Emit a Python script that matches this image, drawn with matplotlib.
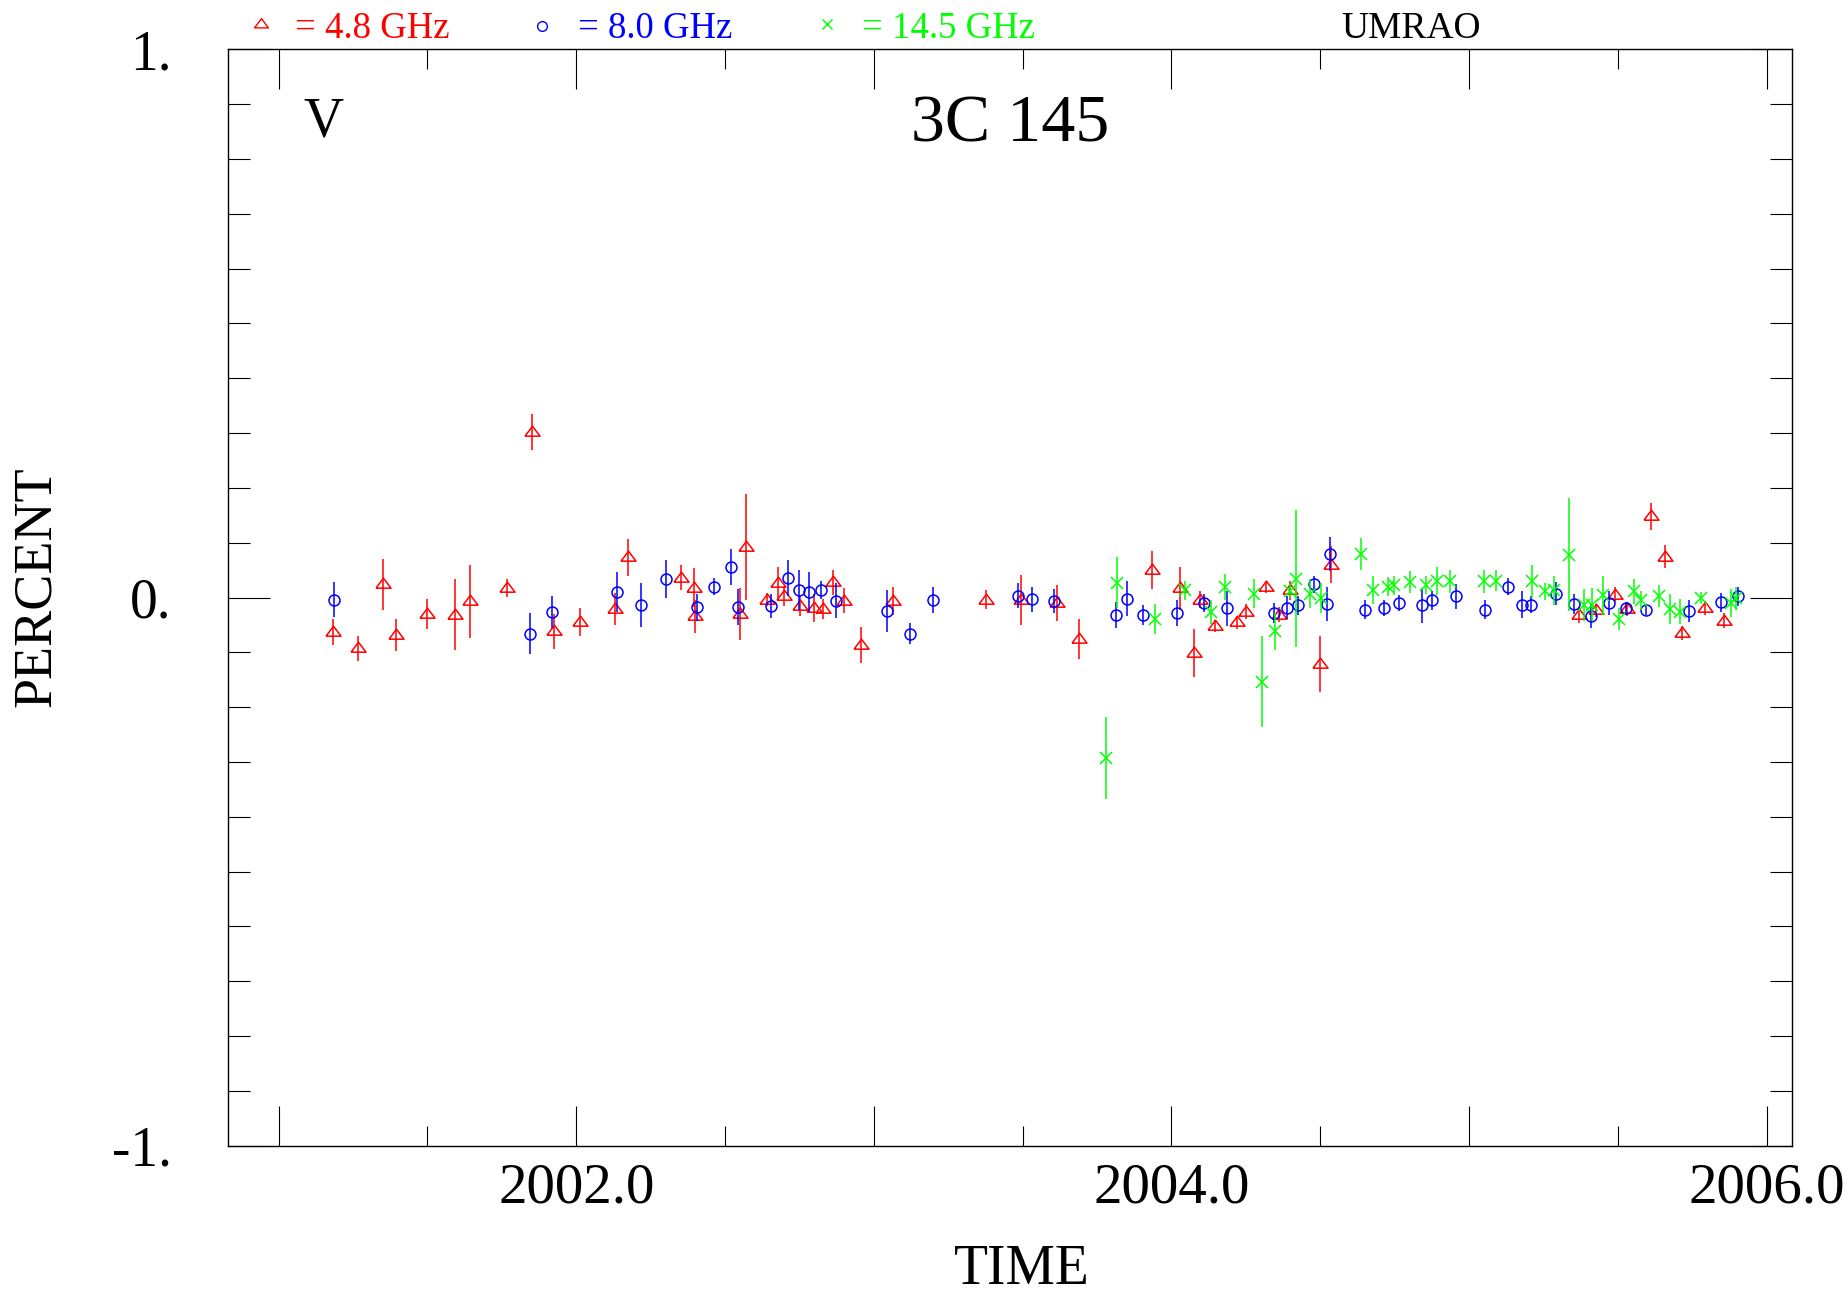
import numpy as np
import matplotlib
matplotlib.use("Agg")
import matplotlib.pyplot as plt
from matplotlib.ticker import FixedLocator, FuncFormatter, FixedFormatter
from matplotlib.lines import Line2D

plt.rcParams['font.family'] = ['Liberation Serif', 'DejaVu Serif']

# 4.8 GHz (red triangles)
t48 = [2001.183, 2001.267, 2001.351, 2001.393, 2001.499, 2001.592, 2001.642, 2001.767,
       2001.851, 2001.925, 2002.013, 2002.129, 2002.174, 2002.351, 2002.397, 2002.400,
       2002.550, 2002.570, 2002.642, 2002.677, 2002.698, 2002.753, 2002.800, 2002.829,
       2002.862, 2002.900, 2002.957, 2003.066, 2003.377, 2003.494, 2003.615, 2003.689,
       2003.934, 2004.028, 2004.075, 2004.095, 2004.146, 2004.221, 2004.249, 2004.319,
       2004.360, 2004.400, 2004.500, 2004.537, 2005.369, 2005.425, 2005.492, 2005.530,
       2005.613, 2005.657, 2005.717, 2005.792, 2005.856]
v48 = [-0.063, -0.093, 0.024, -0.069, -0.030, -0.031, -0.007, 0.017,
       0.302, -0.062, -0.045, -0.021, 0.073, 0.036, 0.018, -0.034,
       -0.030, 0.092, -0.004, 0.026, 0.002, -0.016, -0.019, -0.021,
       0.028, -0.006, -0.086, -0.006, -0.004, -0.005, -0.010, -0.076,
       0.050, 0.017, -0.101, -0.004, -0.052, -0.045, -0.026, 0.020,
       -0.031, 0.013, -0.122, 0.060, -0.032, -0.023, 0.005, -0.021,
       0.148, 0.074, -0.065, -0.019, -0.042]
e48 = [0.023, 0.023, 0.046, 0.029, 0.028, 0.064, 0.067, 0.016,
       0.033, 0.032, 0.026, 0.029, 0.033, 0.023, 0.035, 0.030,
       0.047, 0.096, 0.012, 0.030, 0.018, 0.018, 0.025, 0.019,
       0.023, 0.023, 0.033, 0.025, 0.017, 0.046, 0.033, 0.037,
       0.035, 0.039, 0.044, 0.015, 0.011, 0.012, 0.014, 0.011,
       0.014, 0.017, 0.051, 0.034, 0.015, 0.012, 0.014, 0.012,
       0.024, 0.021, 0.013, 0.012, 0.013]

# 8.0 GHz (blue circles)
t80 = [2001.185, 2001.846, 2001.920, 2002.137, 2002.216, 2002.300, 2002.406, 2002.464,
       2002.519, 2002.544, 2002.654, 2002.710, 2002.747, 2002.782, 2002.822, 2002.872,
       2003.044, 2003.121, 2003.200, 2003.484, 2003.531, 2003.607, 2003.815, 2003.851,
       2003.903, 2004.017, 2004.110, 2004.188, 2004.343, 2004.389, 2004.426, 2004.480,
       2004.524, 2004.534, 2004.652, 2004.715, 2004.766, 2004.842, 2004.876, 2004.957,
       2005.054, 2005.131, 2005.178, 2005.207, 2005.292, 2005.351, 2005.411, 2005.470,
       2005.528, 2005.596, 2005.739, 2005.847, 2005.904]
v80 = [-0.004, -0.066, -0.027, 0.010, -0.014, 0.034, -0.018, 0.020,
       0.055, -0.018, -0.015, 0.035, 0.014, 0.010, 0.014, -0.006,
       -0.025, -0.066, -0.005, 0.003, -0.003, -0.007, -0.032, -0.002,
       -0.032, -0.028, -0.010, -0.020, -0.028, -0.019, -0.014, 0.024,
       -0.011, 0.080, -0.022, -0.019, -0.010, -0.014, -0.005, 0.002,
       -0.022, 0.020, -0.013, -0.013, 0.007, -0.012, -0.034, -0.010,
       -0.020, -0.022, -0.025, -0.009, 0.002]
e80 = [0.032, 0.037, 0.029, 0.037, 0.040, 0.034, 0.024, 0.016,
       0.033, 0.033, 0.022, 0.033, 0.036, 0.036, 0.017, 0.032,
       0.038, 0.019, 0.024, 0.023, 0.023, 0.022, 0.023, 0.032,
       0.019, 0.024, 0.016, 0.032, 0.018, 0.021, 0.017, 0.015,
       0.031, 0.031, 0.017, 0.015, 0.015, 0.032, 0.017, 0.023,
       0.017, 0.016, 0.024, 0.015, 0.021, 0.018, 0.022, 0.022,
       0.011, 0.010, 0.020, 0.017, 0.018]

# 14.5 GHz (green crosses)
t145 = [2003.779, 2003.817, 2003.946, 2004.047, 2004.134, 2004.180, 2004.277, 2004.304,
        2004.349, 2004.400, 2004.417, 2004.466, 2004.504, 2004.636, 2004.678, 2004.726,
        2004.748, 2004.800, 2004.856, 2004.893, 2004.935, 2005.049, 2005.089, 2005.212,
        2005.254, 2005.284, 2005.335, 2005.385, 2005.413, 2005.449, 2005.503, 2005.555,
        2005.577, 2005.638, 2005.675, 2005.710, 2005.778, 2005.879, 2005.896]
v145 = [-0.293, 0.027, -0.039, 0.013, -0.026, 0.019, 0.007, -0.154,
        -0.062, 0.012, 0.034, 0.007, -0.001, 0.080, 0.014, 0.020,
        0.022, 0.028, 0.023, 0.030, 0.030, 0.030, 0.031, 0.030,
        0.011, 0.013, 0.078, -0.013, -0.013, 0.004, -0.040, 0.011,
        -0.005, 0.002, -0.021, -0.026, -0.001, -0.010, -0.001]
e145 = [0.075, 0.046, 0.027, 0.017, 0.022, 0.023, 0.026, 0.083,
        0.034, 0.012, 0.125, 0.026, 0.028, 0.029, 0.026, 0.018,
        0.018, 0.020, 0.017, 0.025, 0.021, 0.021, 0.019, 0.030,
        0.015, 0.026, 0.103, 0.029, 0.030, 0.036, 0.020, 0.022,
        0.017, 0.020, 0.027, 0.023, 0.011, 0.025, 0.021]

RED = (1, 0, 0)
BLUE = (0, 0, 1)
GREEN = (0, 1, 0)

# flattened open triangle like the original plot symbol
tri = [(-1, -0.49), (1, -0.49), (0, 0.84), (-1, -0.49)]

fig = plt.figure(figsize=(18.49, 12.95), dpi=100)
ax = fig.add_axes([0.1235, 0.1153, 0.8458, 0.8466])

ax.errorbar(t48, v48, yerr=e48, fmt='none', ecolor=RED, elinewidth=1.1, capsize=0)
ax.plot(t48, v48, ls='none', marker=tri, ms=10.8, mfc='none', mec=RED, mew=1.1)
ax.errorbar(t80, v80, yerr=e80, fmt='none', ecolor=BLUE, elinewidth=1.1, capsize=0)
ax.plot(t80, v80, ls='none', marker='o', ms=7.9, mfc='none', mec=BLUE, mew=1.1)
ax.errorbar(t145, v145, yerr=e145, fmt='none', ecolor=GREEN, elinewidth=1.1, capsize=0)
ax.plot(t145, v145, ls='none', marker='x', ms=8, mec=GREEN, mew=1.1)

ax.set_xlim(2000.831, 2006.086)
ax.set_ylim(-1, 1)

for s in ax.spines.values():
    s.set_linewidth(1.0)

ax.xaxis.set_major_locator(FixedLocator([2001, 2002, 2003, 2004, 2005, 2006]))
ax.xaxis.set_minor_locator(FixedLocator([2001.5, 2002.5, 2003.5, 2004.5, 2005.5]))
ax.xaxis.set_major_formatter(FuncFormatter(lambda v, p: '%.1f' % v if int(round(v)) % 2 == 0 else ''))
ax.yaxis.set_major_locator(FixedLocator([-1, 0, 1]))
ax.yaxis.set_major_formatter(FixedFormatter(['-1.', '0.', '1.']))
ax.yaxis.set_minor_locator(FixedLocator(np.round(np.arange(-0.9, 0.95, 0.1), 2)))

ax.tick_params(axis='x', which='major', direction='in', length=28.8, width=0.8,
               top=True, bottom=True, labelsize=41, pad=12)
ax.tick_params(axis='x', which='minor', direction='in', length=14.4, width=0.8,
               top=True, bottom=True)
ax.tick_params(axis='y', which='major', direction='in', length=30, width=0.8,
               left=True, right=True, labelsize=40, pad=41)
ax.tick_params(axis='y', which='minor', direction='in', length=15.8, width=0.8,
               left=True, right=True)

ax.text(0.5, 0.931, '3C 145', transform=ax.transAxes, ha='center', va='center', fontsize=49)
ax.text(0.0607, 0.933, 'V', transform=ax.transAxes, ha='center', va='center', fontsize=40)

fig.text(0.5527, 0.0193, 'TIME', ha='center', va='center', fontsize=40)
fig.text(0.020, 0.5467, 'PERCENT', ha='center', va='center', rotation=90, fontsize=39)

# legend row above the frame
W, H = 1849.0, 1295.0
leg_y = 1 - 38.3 / H
fig.text(295 / W, leg_y, '= 4.8 GHz', color=RED, fontsize=26.5, va='baseline')
fig.text(578 / W, leg_y, '= 8.0 GHz', color=BLUE, fontsize=26.5, va='baseline')
fig.text(862 / W, leg_y, '= 14.5 GHz', color=GREEN, fontsize=26.5, va='baseline')
fig.text(1341 / W, leg_y, 'UMRAO', color='black', fontsize=27, va='baseline')
fig.add_artist(Line2D([260.6 / W], [1 - 24 / H], marker=tri, ms=10, mfc='none', mec=RED,
                      mew=1.0, ls='none', transform=fig.transFigure))
fig.add_artist(Line2D([541.7 / W], [1 - 26 / H], marker='o', ms=7, mfc='none', mec=BLUE,
                      mew=1.0, ls='none', transform=fig.transFigure))
fig.add_artist(Line2D([826.6 / W], [1 - 24 / H], marker='x', ms=7, mec=GREEN,
                      mew=1.0, ls='none', transform=fig.transFigure))

fig.savefig('out.png', dpi=100)
